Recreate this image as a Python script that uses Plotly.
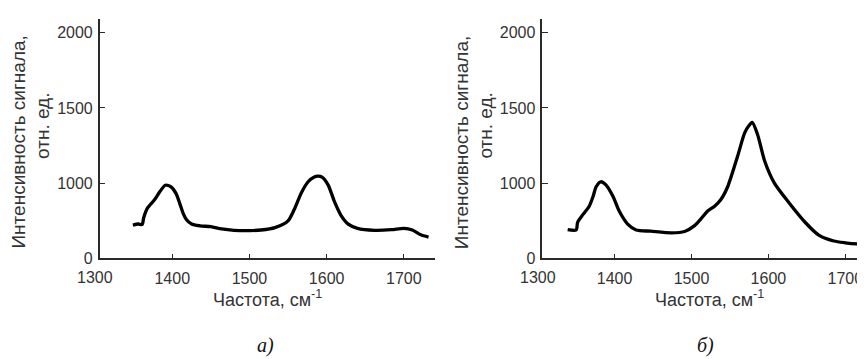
import plotly.graph_objects as go

# ---- data ----
a_x = [1349, 1356, 1361, 1363, 1368, 1377, 1384, 1391, 1398, 1405, 1410, 1414, 1418, 1425,
       1436, 1450, 1464, 1480, 1500, 1515, 1533, 1550, 1558, 1567, 1576, 1584, 1589, 1594,
       1602, 1610, 1619, 1628, 1640, 1662, 1684, 1700, 1711, 1722, 1732]
a_y = [720, 728, 725, 770, 835, 889, 944, 986, 976, 930, 860, 800, 760, 728,
       716, 710, 695, 686, 684, 688, 704, 749, 824, 933, 1009, 1041, 1046, 1040,
       987, 879, 782, 727, 699, 686, 690, 699, 688, 656, 641]

b_x = [1339, 1350, 1352, 1359, 1367, 1372, 1376, 1382, 1389, 1398, 1406, 1417, 1428, 1447,
       1474, 1491, 1504, 1512, 1521, 1530, 1538, 1547, 1560, 1569, 1575, 1579, 1586, 1595,
       1608, 1627, 1648, 1666, 1685, 1700, 1716, 1729]
b_y = [690, 688, 740, 792, 846, 911, 976, 1009, 987, 911, 814, 727, 688, 680,
       669, 678, 717, 760, 814, 846, 889, 976, 1180, 1333, 1385, 1404, 1322, 1149,
       998, 868, 738, 652, 615, 603, 595, 593]

x_tickvals = [1400, 1500, 1600, 1700]
x_ticktext = ["1400", "1500", "1600", "1700"]
y_tickvals = [500, 1000, 1500, 2000]
y_ticktext = ["0", "1000", "1500", "2000"]

x_title = "Частота, см<sup>-1</sup>"
y_title_1 = "Интенсивность сигнала,"
y_title_2 = "отн. ед."
panel_labels = ["а)", "б)"]

W, H = 865, 359
NARROW = "Liberation Sans Narrow, Arial Narrow, Liberation Sans, Arial, sans-serif"
SANS = "Liberation Sans, Arial, sans-serif"
SERIF = "Liberation Serif, Times New Roman, serif"
AX_COLOR = "#2a2a2a"
TXT_COLOR = "#333333"

fig = go.Figure()
fig.add_trace(go.Scatter(x=a_x, y=a_y, mode="lines", xaxis="x", yaxis="y",
                         line=dict(color="black", width=3.3, shape="spline", smoothing=0.7),
                         showlegend=False))
fig.add_trace(go.Scatter(x=b_x, y=b_y, mode="lines", xaxis="x2", yaxis="y2",
                         line=dict(color="black", width=3.3, shape="spline", smoothing=0.7),
                         showlegend=False))

def px_x(p):
    return p / W

def px_y(p):
    return (H - p) / H

common_x = dict(showline=True, linecolor=AX_COLOR, linewidth=1.5, showgrid=False, zeroline=False,
                ticks="inside", ticklen=5, tickwidth=1.3, tickcolor=AX_COLOR,
                tickvals=x_tickvals, ticktext=x_ticktext,
                tickfont=dict(family=NARROW, size=16, color=TXT_COLOR), ticklabelstandoff=5)
common_y = dict(showline=True, linecolor=AX_COLOR, linewidth=1.5, showgrid=False, zeroline=False,
                ticks="inside", ticklen=6, tickwidth=1.3, tickcolor=AX_COLOR,
                tickvals=y_tickvals, ticktext=y_ticktext, range=[500, 2094],
                tickfont=dict(family=NARROW, size=16, color=TXT_COLOR), ticklabelstandoff=2)

ydom = [px_y(256.7), px_y(11)]
fig.update_layout(
    width=W, height=H,
    margin=dict(l=0, r=0, t=0, b=0),
    paper_bgcolor="white", plot_bgcolor="white",
    xaxis=dict(domain=[px_x(91.7), px_x(426.7)], range=[1306, 1740], anchor="y", **common_x),
    yaxis=dict(domain=ydom, anchor="x", **common_y),
    xaxis2=dict(domain=[px_x(534.3), 1.0], range=[1306, 1736], anchor="y2", **common_x),
    yaxis2=dict(domain=ydom, anchor="x2", **common_y),
)

ann = []
for off, lab in zip([0, 442.6], panel_labels):
    # "1300" tick label at the axis corner
    ann.append(dict(text="1300", x=px_x(87.1 + off), y=px_y(276), xref="paper", yref="paper",
                    showarrow=False, xanchor="center", yanchor="middle",
                    font=dict(family=NARROW, size=16, color=TXT_COLOR)))
    ann.append(dict(text=x_title, x=px_x(259 + off), y=px_y(297.5), xref="paper", yref="paper",
                    showarrow=False, xanchor="center", yanchor="middle",
                    font=dict(family=NARROW, size=18, color=TXT_COLOR)))
    ann.append(dict(text=y_title_1, x=px_x(11 + off), y=px_y(138), xref="paper", yref="paper",
                    showarrow=False, xanchor="center", yanchor="middle", textangle=-90,
                    font=dict(family=SANS, size=19, color=TXT_COLOR)))
    ann.append(dict(text=y_title_2, x=px_x(35 + off), y=px_y(121), xref="paper", yref="paper",
                    showarrow=False, xanchor="center", yanchor="middle", textangle=-90,
                    font=dict(family=SANS, size=19, color=TXT_COLOR)))
    ann.append(dict(text="<i>" + lab + "</i>", x=px_x(257 + off * 0.995), y=px_y(346),
                    xref="paper", yref="paper", showarrow=False, xanchor="center", yanchor="middle",
                    font=dict(family=SERIF, size=20, color="#111111")))
fig.update_layout(annotations=ann)

fig.write_html("out.html")
